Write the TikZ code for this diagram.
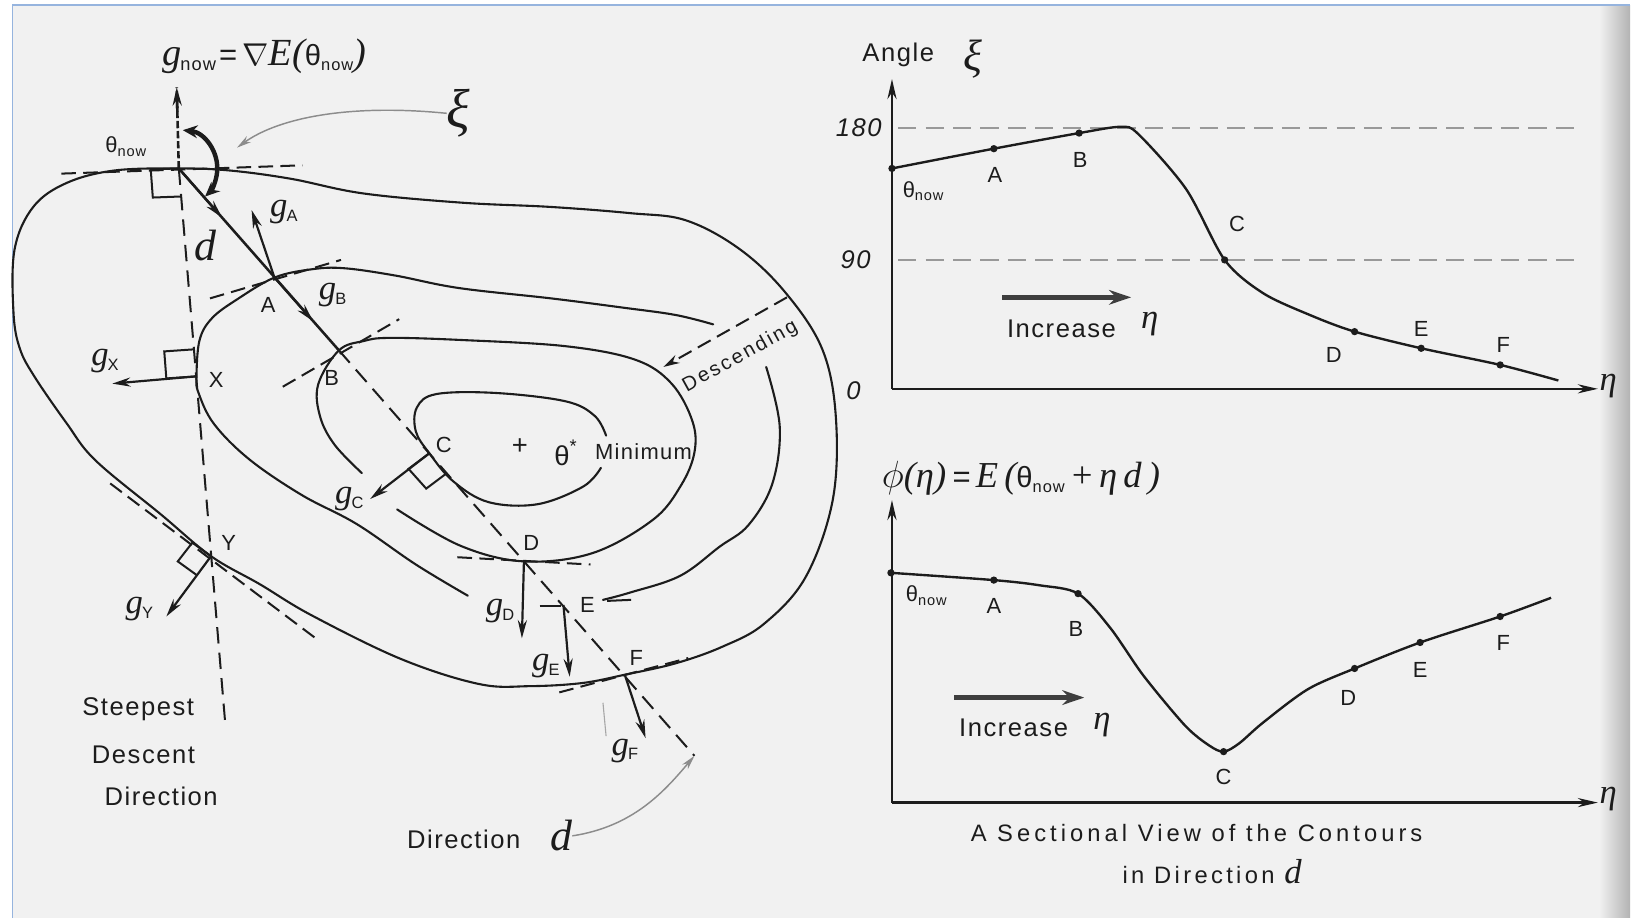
\documentclass[tikz,border=0pt]{standalone}
\usepackage{fontspec}
\setmainfont{Liberation Sans}[LetterSpace=6]
\newfontfamily\tms{Liberation Serif}
\newfontfamily\spsans{Liberation Sans}[LetterSpace=12]
\usetikzlibrary{arrows.meta,calc}
\definecolor{bg}{RGB}{241,241,241}
\definecolor{framec}{RGB}{150,180,222}
\definecolor{ink}{RGB}{28,28,28}
\newcommand\fs[1]{\fontsize{#1}{#1}\selectfont}
\newcommand\mi[2]{{\tms\itshape\fs{#1}#2}}
\newcommand\sbs[1]{\raisebox{-0.3ex}{\fs{8}#1}}
\newcommand\gv[1]{\mi{19}{g}\kern-0.5pt\raisebox{-0.5ex}{\fs{9}#1}}
\newcommand\thn{θ\sbs{now}}
\begin{document}
\begin{tikzpicture}[x=0.02cm,y=-0.02cm,
 every node/.style={inner sep=0pt,outer sep=0pt,text=ink},
 cont/.style={draw=ink,line width=1.15pt,line cap=round,line join=round},
 tang/.style={draw=ink,line width=1.1pt,dash pattern=on 8pt off 4pt},
 sdl/.style={draw=ink,line width=1.1pt,dash pattern=on 9pt off 5pt},
 vec/.style={draw=ink,line width=1.2pt,-{Stealth[length=10pt,width=5pt]}},
 rbox/.style={draw=ink,line width=1.1pt},
 lbl/.style={font=\fs{12}},
 axis/.style={draw=ink,line width=1.2pt,-{Stealth[length=11pt,width=5pt]}},
 gridl/.style={draw=black!40,line width=0.9pt,dash pattern=on 10pt off 5pt},
 curve/.style={draw=ink,line width=1.3pt},
 dot/.style={circle,fill=ink,minimum size=4pt},
 incr/.style={draw=ink!85,line width=2.6pt,-{Stealth[length=12pt,width=8pt]}},
 note/.style={draw=black!45,line width=0.8pt,-{Stealth[length=8pt,width=4pt]}}
]
% background and frame
\fill[white] (0,0) rectangle (1568,883);
\fill[bg] (12,5) rectangle (1568,883);
\shade[left color=bg,right color=black!30] (1538,5) rectangle (1568,883);
\draw[framec,line width=1pt] (12,883) -- (12,5) -- (1568,5);
\useasboundingbox (0,0) rectangle (1568,883);

% ---------------- contour map ----------------
\coordinate (tn) at (172,162);
\coordinate (A) at (264,267);
\coordinate (B) at (326,337);
\coordinate (C) at (413,436);
\coordinate (D) at (504,539);
\coordinate (E) at (542,582);
\coordinate (F) at (601,649);
\coordinate (dend) at (668,727);
\coordinate (X) at (189,362);
\coordinate (Y) at (203,535);
\coordinate (sdend) at (217,700);

% outer contour
\draw[cont] plot[smooth cycle,tension=0.6] coordinates {(172,162) (221,164) (280,172) (349,186) (445,195) (529,199) (606,205) (660,212) (712,240) (756,282) (791,336) (804,401) (801,481) (775,555) (735,600) (695,622) (650,638) (601,649) (560,657) (510,660) (461,658) (386,634) (300,592) (250,562) (203,535) (155,495) (92,443) (64,407) (33,362) (19,335) (13,301) (14,240) (32,199) (64,176) (110,164)};
% second contour
\draw[cont] plot[smooth,tension=0.6] coordinates {(450,573) (400,543) (343,504) (290,476) (240,442) (206,408) (191,378) (189,362) (192,327) (204,306) (228,288) (264,267) (300,259) (331,258) (380,265) (441,277) (530,287) (600,296) (650,303) (686,312)};
\draw[cont] plot[smooth,tension=0.6] coordinates {(737,353) (750,410) (743,465) (720,505) (692,526) (654,554) (606,570) (580,577)};
% inner contour
\draw[cont] plot[smooth,tension=0.6] coordinates {(583,419) (572,400) (544,386) (477,378) (420,379) (401,392) (400,415) (413,436) (436,463) (470,483) (517,485) (561,468) (578,450)};
% labels near minimum
\node (tstar) at (500,430) {\fs{15}+};
\node (tstl) at (544,436) {\fs{15}θ\raisebox{0.9ex}{\fs{10}*}};
\node[font=\fs{12}] (minl) at (619,434) {Minimum};
% third contour
\draw[cont] plot[smooth,tension=0.6] coordinates {(348,455) (322,428) (308,401) (306,370) (326,337) (350,328) (375,325) (443,327) (544,333) (611,346) (646,369) (666,405) (668,435) (655,467) (628,500) (570,532) (504,540) (443,525) (382,490)};

% descending
\coordinate (desa) at (757,286);
\coordinate (desb) at (638,353);
\draw[tang,-{Stealth[length=9pt,width=5pt]}] (desa) -- (desb);
\node[rotate=29,font=\spsans\fs{11}] (desc) at (712,343) {Descending};

% tangent lines
\coordinate (t0a) at (59,167); \coordinate (t0b) at (291,159);
\draw[tang] (t0a) -- (t0b);
\coordinate (tAa) at (202,287); \coordinate (tAb) at (328,250);
\draw[tang] (tAa) -- (tAb);
\coordinate (tBa) at (272,372); \coordinate (tBb) at (384,307);
\draw[tang] (tBa) -- (tBb);
\coordinate (tDa) at (440,536); \coordinate (tDb) at (568,543);
\draw[tang] (tDa) -- (tDb);
\coordinate (tEa) at (519,583); \coordinate (tEb) at (540,583);
\draw[ink,line width=1.1pt] (tEa) -- (tEb);
\coordinate (tEc) at (584,578); \coordinate (tEd) at (607,577);
\draw[ink,line width=1.1pt] (tEc) -- (tEd);
\coordinate (tFa) at (538,666); \coordinate (tFb) at (662,633);
\draw[tang] (tFa) -- (tFb);
\coordinate (tYa) at (106,465); \coordinate (tYb) at (305,615);
\draw[tang] (tYa) -- (tYb);

% steepest descent line
\draw[sdl] (tn) -- (sdend);
% direction d
\draw[ink,line width=1.4pt] (tn) -- (B);
\draw[vec] (tn) -- ($(tn)!0.27!(B)$);
\draw[vec] (A) -- ($(A)!0.6!(B)$);
\draw[sdl] (B) -- (dend);

% g_now and xi arc
\coordinate (gnt) at (170,84);
\draw[ink,line width=1.4pt,dash pattern=on 4pt off 1.5pt] (tn) -- (gnt);
\draw[vec,line width=1.4pt] ($(tn)!0.7!(gnt)$) -- (gnt);
\draw[ink,line width=2.4pt,{Stealth[length=8pt,width=7pt]}-{Stealth[length=8pt,width=7pt]}] ([shift={(-84:37)}]tn) arc[start angle=-84,end angle=47,radius=37];
\node (gnow) at (254,54) {\mi{21}{g}\kern-0.5pt\raisebox{-0.5ex}{\fs{10}now}\,\fs{17}=\,$\nabla$\mi{21}{E}\mi{21}{(}\fs{16}θ\raisebox{-0.3ex}{\fs{9}now}\mi{21}{)}};
\node (xil) at (441,109) {\mi{30}{ξ}};
\coordinate (xitip) at (228,142);
\draw[note] (xil.west) .. controls (340,100) and (270,112) .. (xitip);
\node[font=\fs{12}] (tnl) at (121,141) {\thn};
\node (dl) at (198,236) {\mi{24}{d}};

% right-angle boxes
\draw[rbox] (tn) -- (145,163) -- (147,190) -- (174,189);
\draw[rbox] (X) -- (160,364) -- (158,338) -- (187,336);
\draw[rbox] (Y) -- (185,522) -- (171,540) -- (189,553);
\draw[rbox] (C) -- (393,451) -- (410,470) -- (430,455);

% gradient vectors
\coordinate (gAt) at (242,202); \draw[vec] (A) -- (gAt);
\coordinate (gXt) at (108,369); \draw[vec] (X) -- (gXt);
\coordinate (gYt) at (160,593); \draw[vec] (Y) -- (gYt);
\coordinate (gCt) at (356,480); \draw[vec] (C) -- (gCt);
\coordinate (gDt) at (502,614); \draw[vec] (D) -- (gDt);
\coordinate (gEt) at (548,651); \draw[vec] (E) -- (gEt);
\coordinate (gFt) at (621,710); \draw[vec] (F) -- (gFt);
\coordinate (gr1) at (580,676); \coordinate (gr2) at (583,708);
\draw[black!35,line width=0.6pt] (gr1) -- (gr2);

\node (gAl) at (273,204) {\gv{A}};
\node (gBl) at (320,284) {\gv{B}};
\node (gXl) at (101,347) {\gv{X}};
\node (gYl) at (134,586) {\gv{Y}};
\node (gCl) at (336,480) {\gv{C}};
\node (gDl) at (481,588) {\gv{D}};
\node (gEl) at (525,641) {\gv{E}};
\node (gFl) at (601,722) {\gv{F}};

\node[lbl] (Al) at (258,293) {A};
\node[lbl] (Bl) at (319,364) {B};
\node[lbl] (Cl) at (427,428) {C};
\node[lbl] (Dl) at (511,522) {D};
\node[lbl] (El) at (565,582) {E};
\node[lbl] (Fl) at (612,633) {F};
\node[lbl] (Xl) at (208,365) {X};
\node[lbl] (Yl) at (220,522) {Y};

\node[font=\fs{14}] (st1) at (133,682) {Steepest};
\node[font=\fs{14}] (st2) at (138,726) {Descent};
\node[font=\fs{14}] (st3) at (155,766) {Direction};
\node[font=\fs{14}] (dirl) at (446,807) {Direction};
\node (dird) at (540,804) {\mi{24}{d}};
\draw[note] (dird.east) .. controls (610,795) and (640,760) .. (dend);

% ---------------- top chart ----------------
\coordinate (o1) at (858,374);
\coordinate (y1) at (858,76);
\coordinate (x1) at (1537,374);
\coordinate (h1a) at (864,123); \coordinate (h1b) at (1520,123);
\coordinate (h2a) at (864,250); \coordinate (h2b) at (1520,250);
\draw[gridl] (h1a) -- (h1b);
\draw[gridl] (h2a) -- (h2b);
\draw[axis] (o1) -- (y1);
\draw[axis] (o1) -- (x1);
\draw[curve] plot[smooth,tension=0.5] coordinates {(858,162) (956,143) (1038,128) (1078,122) (1095,129) (1141,182) (1178,250) (1215,282) (1260,303) (1303,319) (1367,335) (1443,351) (1499,366)};
\foreach \n/\x/\y in {p1/858/162,p2/956/143,p3/1038/128,p4/1178/250,p5/1303/319,p6/1367/335,p7/1443/351}
  \node[dot] (\n) at (\x,\y) {};
\node[font=\fs{14}] (angl) at (864,53) {Angle};
\node (angx) at (936,57) {\mi{24}{ξ}};
\node[font=\fs{14}\itshape] (v180) at (826,123) {180};
\node[font=\fs{14}\itshape] (v90) at (823,250) {90};
\node[font=\fs{14}\itshape] (v0) at (821,376) {0};
\node (eta1) at (1547,371) {\mi{19}{η}};
\node[lbl] (q1) at (888,184) {\thn};
\node[lbl] (q2) at (957,168) {A};
\node[lbl] (q3) at (1039,154) {B};
\node[lbl] (q4) at (1190,215) {C};
\node[lbl] (q5) at (1283,341) {D};
\node[lbl] (q6) at (1367,316) {E};
\node[lbl] (q7) at (1446,332) {F};
\coordinate (i1a) at (964,286); \coordinate (i1b) at (1088,286);
\draw[incr] (i1a) -- (i1b);
\node[font=\fs{14}] (inc1) at (1021,316) {Increase};
\node (ie1) at (1106,312) {\mi{19}{η}};

% ---------------- bottom chart ----------------
\coordinate (o2) at (858,772);
\coordinate (y2) at (858,481);
\coordinate (x2) at (1537,772);
\draw[axis] (o2) -- (y2);
\draw[axis] (o2) -- (x2);
\draw[curve] plot[smooth,tension=0.5] coordinates {(857,551) (956,558) (1000,563) (1037,571) (1068,604) (1100,650) (1140,698) (1163,717) (1177,723) (1192,715) (1215,695) (1258,663) (1303,643) (1366,618) (1443,593) (1492,575)};
\foreach \n/\x/\y in {r1/857/551,r2/956/558,r3/1037/571,r4/1177/723,r5/1303/643,r6/1366/618,r7/1443/593}
  \node[dot] (\n) at (\x,\y) {};
\node (phil) at (982,460) {\fs{21}$\phi$\mi{20}{(η)}\,\fs{17}=\,\mi{20}{E\,(}\fs{16}θ\raisebox{-0.3ex}{\fs{9}now}\,\mi{20}{+}\,\mi{20}{η\,d\,)}};
\node (eta2) at (1547,769) {\mi{19}{η}};
\node[lbl] (s1) at (891,573) {\thn};
\node[lbl] (s2) at (956,583) {A};
\node[lbl] (s3) at (1035,605) {B};
\node[lbl] (s4) at (1177,747) {C};
\node[lbl] (s5) at (1297,671) {D};
\node[lbl] (s6) at (1366,644) {E};
\node[lbl] (s7) at (1446,618) {F};
\coordinate (i2a) at (918,671); \coordinate (i2b) at (1043,671);
\draw[incr] (i2a) -- (i2b);
\node[font=\fs{14}] (inc2) at (975,700) {Increase};
\node (ie2) at (1060,697) {\mi{19}{η}};
\node[font=\fs{13}\addfontfeature{LetterSpace=17}] (cap1) at (1151,801) {A Sectional View of the Contours};
\node (cap2) at (1166,838) {\fs{13}\addfontfeature{LetterSpace=14}in Direction \mi{19}{d}};
\end{tikzpicture}
\end{document}
